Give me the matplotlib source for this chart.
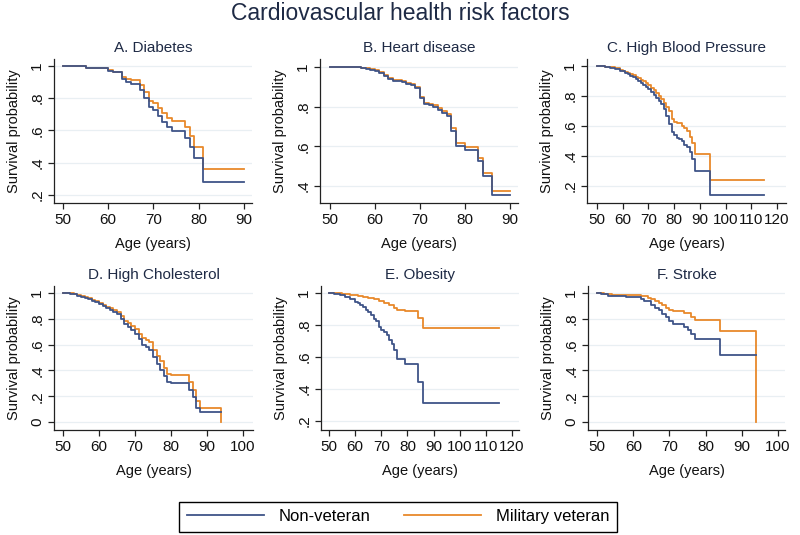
import matplotlib
matplotlib.use("Agg")
import matplotlib.pyplot as plt
from matplotlib.lines import Line2D

plt.rcParams['font.family'] = ['Liberation Sans', 'DejaVu Sans']

# ---------------- data (age, survival) ----------------
diab_t_non = [50, 55, 58, 60, 61, 63, 64, 65, 67, 68, 69, 70, 71, 72, 73, 74, 77, 78, 79, 81, 90]
diab_s_non = [1.0, 0.99, 0.985, 0.97, 0.96, 0.917, 0.90, 0.886, 0.85, 0.80, 0.744, 0.727, 0.69, 0.65, 0.624, 0.598, 0.55, 0.496, 0.427, 0.283, 0.283]
diab_t_vet = [50, 55, 58, 60, 61, 63, 64, 65, 67, 68, 69, 70, 71, 72, 73, 74, 77, 78, 79, 81, 90]
diab_s_vet = [1.0, 0.99, 0.985, 0.972, 0.96, 0.934, 0.92, 0.91, 0.88, 0.84, 0.785, 0.773, 0.737, 0.706, 0.68, 0.66, 0.62, 0.566, 0.50, 0.36, 0.36]

heart_t_non = [50, 56, 57, 58, 59, 60, 61, 62, 63, 64, 66, 67, 68, 69, 70, 71, 72, 73, 74, 75, 76, 77, 78, 80, 83, 84, 86, 90]
heart_s_non = [1.0, 0.998, 0.995, 0.99, 0.985, 0.98, 0.97, 0.955, 0.94, 0.93, 0.925, 0.915, 0.91, 0.895, 0.845, 0.815, 0.81, 0.80, 0.785, 0.77, 0.755, 0.675, 0.60, 0.58, 0.525, 0.45, 0.355, 0.355]
heart_t_vet = [50, 56, 57, 58, 59, 60, 61, 62, 63, 64, 66, 67, 68, 69, 70, 71, 72, 73, 74, 75, 76, 77, 78, 80, 83, 84, 86, 90]
heart_s_vet = [1.0, 0.999, 0.997, 0.993, 0.988, 0.983, 0.973, 0.96, 0.945, 0.933, 0.928, 0.92, 0.915, 0.90, 0.85, 0.82, 0.815, 0.807, 0.793, 0.78, 0.765, 0.69, 0.615, 0.595, 0.54, 0.465, 0.375, 0.375]

hbp_t = [50, 53, 55, 57, 59, 60, 61, 62, 63, 64, 65, 66, 67, 68, 69, 70, 71, 72, 73, 74, 75, 76, 77, 78, 79, 80, 81, 82, 83, 84, 85, 86, 87, 88, 94, 115]
hbp_s_non = [1.0, 0.995, 0.99, 0.98, 0.97, 0.965, 0.955, 0.945, 0.935, 0.925, 0.915, 0.90, 0.89, 0.875, 0.86, 0.845, 0.83, 0.81, 0.79, 0.77, 0.745, 0.715, 0.67, 0.615, 0.56, 0.54, 0.52, 0.515, 0.50, 0.475, 0.46, 0.43, 0.38, 0.30, 0.14, 0.14]
hbp_s_vet = [1.0, 0.997, 0.993, 0.985, 0.975, 0.97, 0.963, 0.955, 0.947, 0.94, 0.93, 0.92, 0.91, 0.898, 0.885, 0.872, 0.857, 0.84, 0.82, 0.80, 0.78, 0.755, 0.725, 0.70, 0.65, 0.63, 0.62, 0.62, 0.60, 0.59, 0.57, 0.53, 0.49, 0.413, 0.24, 0.24]

chol_t_non = [50, 52, 53, 54, 55, 56, 57, 58, 59, 60, 61, 62, 63, 64, 65, 66, 67, 68, 69, 70, 71, 72, 73, 74, 75, 76, 77, 78, 79, 80, 85, 86, 87, 88, 94]
chol_s_non = [1.0, 0.995, 0.99, 0.98, 0.97, 0.96, 0.95, 0.94, 0.93, 0.915, 0.90, 0.885, 0.87, 0.855, 0.835, 0.80, 0.76, 0.74, 0.715, 0.68, 0.64, 0.60, 0.585, 0.56, 0.50, 0.45, 0.405, 0.355, 0.31, 0.30, 0.25, 0.19, 0.11, 0.075, 0.075]
chol_t_vet = [50, 52, 53, 54, 55, 56, 57, 58, 59, 60, 61, 62, 63, 64, 65, 66, 67, 68, 69, 70, 71, 72, 73, 74, 75, 76, 77, 78, 79, 80, 85, 86, 87, 88, 94]
chol_s_vet = [1.0, 0.997, 0.993, 0.985, 0.975, 0.965, 0.958, 0.948, 0.94, 0.925, 0.91, 0.895, 0.88, 0.865, 0.85, 0.82, 0.785, 0.77, 0.745, 0.72, 0.68, 0.65, 0.635, 0.62, 0.56, 0.51, 0.47, 0.415, 0.375, 0.365, 0.31, 0.25, 0.16, 0.11, 0.0]

obes_t_non = [50, 52, 54, 56, 58, 60, 61, 62, 63, 64, 65, 66, 67, 68, 69, 70, 71, 72, 73, 74, 75, 76, 79, 84, 86, 115]
obes_s_non = [1.0, 0.995, 0.985, 0.975, 0.96, 0.945, 0.935, 0.925, 0.91, 0.895, 0.88, 0.86, 0.835, 0.825, 0.79, 0.77, 0.755, 0.735, 0.705, 0.68, 0.645, 0.59, 0.555, 0.445, 0.31, 0.31]
obes_t_vet = [50, 55, 58, 61, 63, 65, 67, 69, 71, 73, 75, 76, 79, 84, 86, 115]
obes_s_vet = [1.0, 0.995, 0.99, 0.983, 0.978, 0.97, 0.96, 0.95, 0.938, 0.925, 0.905, 0.895, 0.885, 0.845, 0.78, 0.78]

strk_t_non = [50, 51, 53, 58, 62, 63, 65, 66, 67, 68, 69, 70, 71, 74, 75, 76, 77, 84, 94]
strk_s_non = [1.0, 0.99, 0.98, 0.97, 0.95, 0.935, 0.91, 0.885, 0.865, 0.84, 0.81, 0.78, 0.76, 0.735, 0.715, 0.68, 0.645, 0.517, 0.517]
strk_t_vet = [50, 52, 54, 62, 64, 65, 66, 67, 68, 69, 70, 71, 74, 76, 77, 84, 94]
strk_s_vet = [1.0, 0.99, 0.985, 0.975, 0.96, 0.955, 0.94, 0.925, 0.905, 0.885, 0.87, 0.86, 0.845, 0.815, 0.79, 0.705, 0.0]

titles = ["A. Diabetes", "B. Heart disease", "C. High Blood Pressure",
          "D. High Cholesterol", "E. Obesity", "F. Stroke"]
series_labels = ["Non-veteran", "Military veteran"]
main_title = "Cardiovascular health risk factors"

# ---------------- styling ----------------
W, H = 800, 535
BLUE = '#3f5488'
ORANGE = '#e8892b'
TXT = '#1e2a45'
GRID = '#e9eff3'

fig = plt.figure(figsize=(W / 100, H / 100), dpi=100)
fig.patch.set_facecolor('white')


def px_axes(x0, y0, x1, y1):
    return fig.add_axes([x0 / W, 1 - y1 / H, (x1 - x0) / W, (y1 - y0) / H])


def fmt(v):
    if abs(v - round(v)) < 1e-9:
        return str(int(round(v)))
    return ('%.1f' % v).lstrip('0')


panels = [
    dict(box=(54, 59, 252, 203), xlim=(48.0, 91.8), ylim=(0.150, 1.043),
         xt=[50, 60, 70, 80, 90], yt=[0.2, 0.4, 0.6, 0.8, 1.0],
         non=(diab_t_non, diab_s_non), vet=(diab_t_vet, diab_s_vet)),
    dict(box=(320, 59, 518, 203), xlim=(47.8, 91.8), ylim=(0.314, 1.040),
         xt=[50, 60, 70, 80, 90], yt=[0.4, 0.6, 0.8, 1.0],
         non=(heart_t_non, heart_s_non), vet=(heart_t_vet, heart_s_vet)),
    dict(box=(587, 59, 786, 203), xlim=(46.1, 123.5), ylim=(0.087, 1.047),
         xt=[50, 60, 70, 80, 90, 100, 110, 120], yt=[0.2, 0.4, 0.6, 0.8, 1.0],
         non=(hbp_t, hbp_s_non), vet=(hbp_t, hbp_s_vet)),
    dict(box=(54, 286, 253, 430), xlim=(47.5, 102.8), ylim=(-0.062, 1.054),
         xt=[50, 60, 70, 80, 90, 100], yt=[0, 0.2, 0.4, 0.6, 0.8, 1.0],
         non=(chol_t_non, chol_s_non), vet=(chol_t_vet, chol_s_vet)),
    dict(box=(321, 286, 519, 430), xlim=(46.9, 122.7), ylim=(0.144, 1.044),
         xt=[50, 60, 70, 80, 90, 100, 110, 120], yt=[0.2, 0.4, 0.6, 0.8, 1.0],
         non=(obes_t_non, obes_s_non), vet=(obes_t_vet, obes_s_vet)),
    dict(box=(588, 286, 785, 430), xlim=(47.5, 101.9), ylim=(-0.062, 1.054),
         xt=[50, 60, 70, 80, 90, 100], yt=[0, 0.2, 0.4, 0.6, 0.8, 1.0],
         non=(strk_t_non, strk_s_non), vet=(strk_t_vet, strk_s_vet)),
]

for p, title in zip(panels, titles):
    x0, y0, x1, y1 = p['box']
    w, h = x1 - x0, y1 - y0
    ax = px_axes(x0, y0, x1, y1)
    ax.set_xlim(*p['xlim'])
    ax.set_ylim(*p['ylim'])
    for yv in p['yt']:
        ax.axhline(yv, color=GRID, lw=0.9, zorder=0)
    ax.step(p['non'][0], p['non'][1], where='post', color=BLUE, lw=1.3, zorder=3)
    ax.step(p['vet'][0], p['vet'][1], where='post', color=ORANGE, lw=1.3, zorder=2)
    ax.set_xticks(p['xt'])
    ax.set_xticklabels([fmt(v) for v in p['xt']])
    ax.set_yticks(p['yt'])
    ax.set_yticklabels([fmt(v) for v in p['yt']], rotation=90, va='center')
    for s in ['top', 'right']:
        ax.spines[s].set_visible(False)
    for s in ['left', 'bottom']:
        ax.spines[s].set_linewidth(0.9)
        ax.spines[s].set_color('#222222')
    ax.tick_params(axis='both', direction='out', length=4, width=0.9,
                   color='#222222', labelsize=11, labelcolor='#111111', pad=3)
    ax.set_title(title, fontsize=11, color=TXT, pad=5)
    ax.set_xlabel("Age (years)", fontsize=10.5, color='#111111')
    ax.xaxis.set_label_coords(0.5, -34.0 / h)
    ax.set_ylabel("Survival probability", fontsize=10.5, color='#111111')
    ax.yaxis.set_label_coords(-33.0 / w, 0.5)
    ax.set_facecolor('white')

fig.text(0.5, 1 - 13 / H, main_title, ha='center', va='center',
         fontsize=16.5, color=TXT)

handles = [Line2D([], [], color=BLUE, lw=1.3), Line2D([], [], color=ORANGE, lw=1.3)]
leg = fig.legend(handles, series_labels, loc='center', ncol=2,
                 bbox_to_anchor=(398 / W, 1 - 516.5 / H),
                 fontsize=12, handlelength=4.6, handletextpad=0.9,
                 columnspacing=2.0, borderpad=0.45, fancybox=False,
                 frameon=True, framealpha=1)
leg.get_frame().set_edgecolor('black')
leg.get_frame().set_linewidth(1.0)

fig.savefig("out.png", dpi=100, facecolor='white')
